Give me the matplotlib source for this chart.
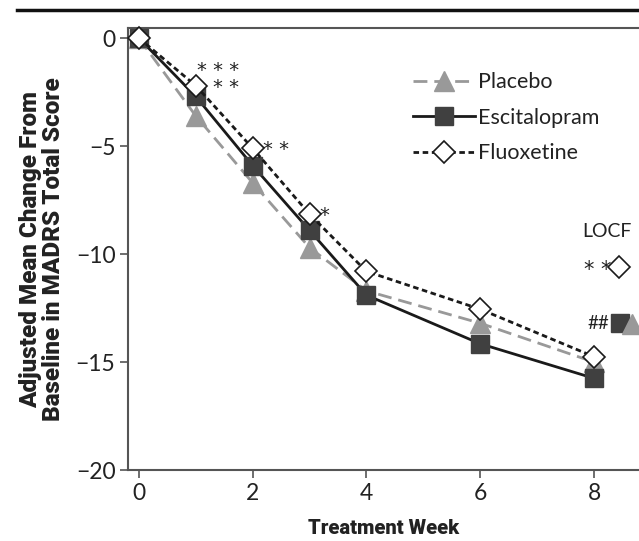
import matplotlib
matplotlib.use("Agg")
import matplotlib.pyplot as plt
from matplotlib.lines import Line2D

# weeks and adjusted mean change (MADRS)
weeks = [0, 1, 2, 3, 4, 6, 8]
placebo = [0, -3.6, -6.7, -9.7, -11.7, -13.2, -15.0]
escitalopram = [0, -2.7, -5.9, -8.9, -11.9, -14.15, -15.75]
fluoxetine = [0, -2.2, -5.1, -8.15, -10.8, -12.55, -14.75]

# LOCF endpoint values
locf_placebo = -13.25
locf_escitalopram = -13.2
locf_fluoxetine = -10.6

# significance marks next to fluoxetine points
sig_weeks = [1, 2, 3]
sig_labels = ["* * *\n* *", "* *", "*"]

plt.rcParams["font.family"] = ["Lato", "DejaVu Sans"]
DARK = "#222222"
STAR_FONT = ["DejaVu Sans"]
BOLD_FONT = ["Roboto", "DejaVu Sans"]

fig = plt.figure(figsize=(6.39, 5.41), dpi=100)
ax = fig.add_axes([0.2003, 0.131, 0.7997, 0.817])

ax.plot(weeks, placebo, color="#999999", linestyle=(0, (5, 2.5)), linewidth=2,
        marker="^", markersize=14, markerfacecolor="#999999",
        markeredgecolor="#999999", label="Placebo", zorder=3, clip_on=False)
ax.plot(weeks, escitalopram, color="#1a1a1a", linestyle="-", linewidth=2,
        marker="s", markersize=13.5, markerfacecolor="#404040",
        markeredgecolor="#404040", label="Escitalopram", zorder=4, clip_on=False)
ax.plot(weeks, fluoxetine, color="#1a1a1a", linestyle=(0, (2, 1.3)), linewidth=2,
        marker="D", markersize=11, markerfacecolor="white",
        markeredgecolor="#1a1a1a", markeredgewidth=1.2, label="Fluoxetine",
        zorder=5, clip_on=False)

# LOCF markers on the right
ax.plot(8.45, locf_escitalopram, marker="s", markersize=13.5, color="#404040",
        linestyle="none", zorder=4)
ax.plot(8.66, locf_placebo, marker="^", markersize=14, color="#999999",
        linestyle="none", zorder=5)
ax.plot(8.43, locf_fluoxetine, marker="D", markersize=11, markerfacecolor="white",
        markeredgecolor="#1a1a1a", markeredgewidth=1.2, linestyle="none", zorder=5)
ax.text(8.22, -8.97, "LOCF", fontsize=14, ha="center", va="center", color=DARK)
ax.text(8.06, locf_fluoxetine - 0.15, "* *", fontsize=15, ha="center",
        va="center", color=DARK, family=STAR_FONT)
ax.text(8.08, locf_escitalopram, "##", fontsize=13.5, ha="center", va="center",
        color=DARK)

# significance stars
for wk, lab in zip(sig_weeks, sig_labels):
    yv = fluoxetine[weeks.index(wk)]
    if "\n" in lab:
        ax.text(wk + 0.02, yv + 0.3, lab, fontsize=14, ha="left", va="center",
                color=DARK, linespacing=0.85, family=STAR_FONT,
                multialignment="right")
    else:
        ax.text(wk + 0.18, yv - 0.05, lab, fontsize=14, ha="left", va="center",
                color=DARK, family=STAR_FONT)

ax.set_xlim(-0.19, 8.79)
ax.set_ylim(-20, 0.46)
ax.set_xticks([0, 2, 4, 6, 8])
ax.set_yticks([0, -5, -10, -15, -20])
ax.set_yticklabels(["0", "\u22125", "\u221210", "\u221215", "\u221220"])
ax.tick_params(axis="both", direction="out", length=6, width=1.2,
               color="#555555", labelsize=16.5, labelcolor=DARK, pad=3)

for side in ["left", "bottom", "top"]:
    ax.spines[side].set_color("#555555")
    ax.spines[side].set_linewidth(1.5)
ax.spines["right"].set_visible(False)

ax.set_xlabel("Treatment Week", fontsize=14.5, fontweight="black",
              color=DARK, labelpad=11, family=BOLD_FONT)
ax.set_ylabel("Adjusted Mean Change From\nBaseline in MADRS Total Score",
              fontsize=17.5, fontweight="black", color=DARK,
              labelpad=8, linespacing=0.95, family=BOLD_FONT)

leg = ax.legend(loc="upper left", bbox_to_anchor=(0.541, 0.92), frameon=False,
                fontsize=15.5, handlelength=2.9, handletextpad=0.1,
                labelspacing=0.72, borderaxespad=0)
for t in leg.get_texts():
    t.set_color(DARK)

# thick rule at top of figure
fig.add_artist(Line2D([17 / 639, 1.0], [1 - 10 / 541, 1 - 10 / 541],
                      color="#111111", linewidth=2.5))

fig.savefig("out.png", dpi=100)
